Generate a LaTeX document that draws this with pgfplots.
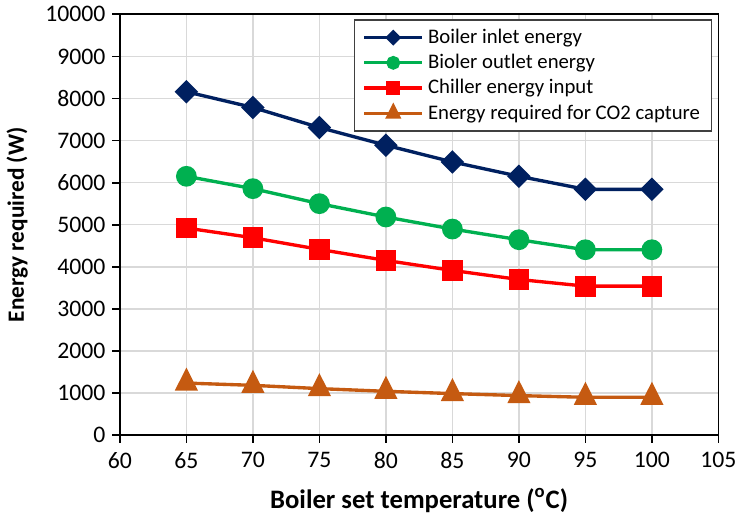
\documentclass[border=0pt]{standalone}
\usepackage{fontspec}
\setmainfont{Carlito}
\usepackage{pgfplots}
\pgfplotsset{compat=1.18}
\definecolor{cnavy}{HTML}{002060}
\definecolor{cgreen}{HTML}{00B050}
\definecolor{cred}{HTML}{FF0000}
\definecolor{corange}{HTML}{C55A11}
\definecolor{cgrid}{HTML}{D9D9D9}
\begin{document}
\begin{tikzpicture}
\begin{axis}[
  scale only axis,
  width=303pt, height=213pt,
  xmin=60, xmax=105, ymin=0, ymax=10000,
  xtick={60,65,...,105},
  ytick={0,1000,...,10000},
  axis lines=box,
  xtick pos=bottom, ytick pos=left,
  axis line style={black, line width=0.9pt},
  grid=major,
  major grid style={cgrid, line width=0.8pt},
  tick align=outside,
  major tick length=3.8pt,
  tick style={black, line width=0.9pt},
  scaled y ticks=false,
  /pgf/number format/assume math mode=true,
  /pgf/number format/set thousands separator={},
  ticklabel style={font=\fontsize{12}{14}\selectfont},
  xticklabel style={yshift=-1.5pt},
  xlabel={\textbf{Boiler set temperature (\textsuperscript{o}C)}},
  ylabel={\textbf{Energy required (W)}},
  xlabel style={font=\fontsize{13.5}{16}\selectfont, yshift=-3pt},
  ylabel style={font=\fontsize{11.8}{14}\selectfont, yshift=2pt},
  legend style={at={(0.990,0.988)}, anchor=north east, draw=black!75, line width=0.6pt,
     font=\fontsize{10.5}{12.5}\selectfont, row sep=0pt, inner xsep=4pt, inner ysep=2.5pt,
     nodes={inner xsep=2pt}},
  legend cell align=left,
  legend image code/.code={\draw[mark repeat=2, mark phase=2, #1, every mark/.append style={scale=0.6}]
     plot coordinates {(0cm,0cm) (0.52cm,0cm) (1.04cm,0cm)};},
  every axis plot/.append style={line width=1.7pt},
]
\addplot[color=cnavy, mark=diamond*, mark size=4.75pt, mark options={xscale=1.33}] coordinates {
 (65,8160) (70,7786) (75,7310) (80,6889) (85,6492) (90,6151) (95,5841) (100,5841)};
\addlegendentry{Boiler inlet energy}
\addplot[color=cgreen, mark=*, mark size=4.4pt] coordinates {
 (65,6151) (70,5857) (75,5500) (80,5183) (85,4897) (90,4643) (95,4405) (100,4405)};
\addlegendentry{Bioler outlet energy}
\addplot[color=cred, mark=square*, mark size=4.4pt] coordinates {
 (65,4921) (70,4690) (75,4413) (80,4151) (85,3913) (90,3698) (95,3540) (100,3540)};
\addlegendentry{Chiller energy input}
\addplot[color=corange, mark=triangle*, mark size=5.2pt, mark options={yscale=1.15}] coordinates {
 (65,1236) (70,1182) (75,1104) (80,1040) (85,986) (90,938) (95,898) (100,898)};
\addlegendentry{Energy required for CO2 capture}
\end{axis}
\end{tikzpicture}
\end{document}
